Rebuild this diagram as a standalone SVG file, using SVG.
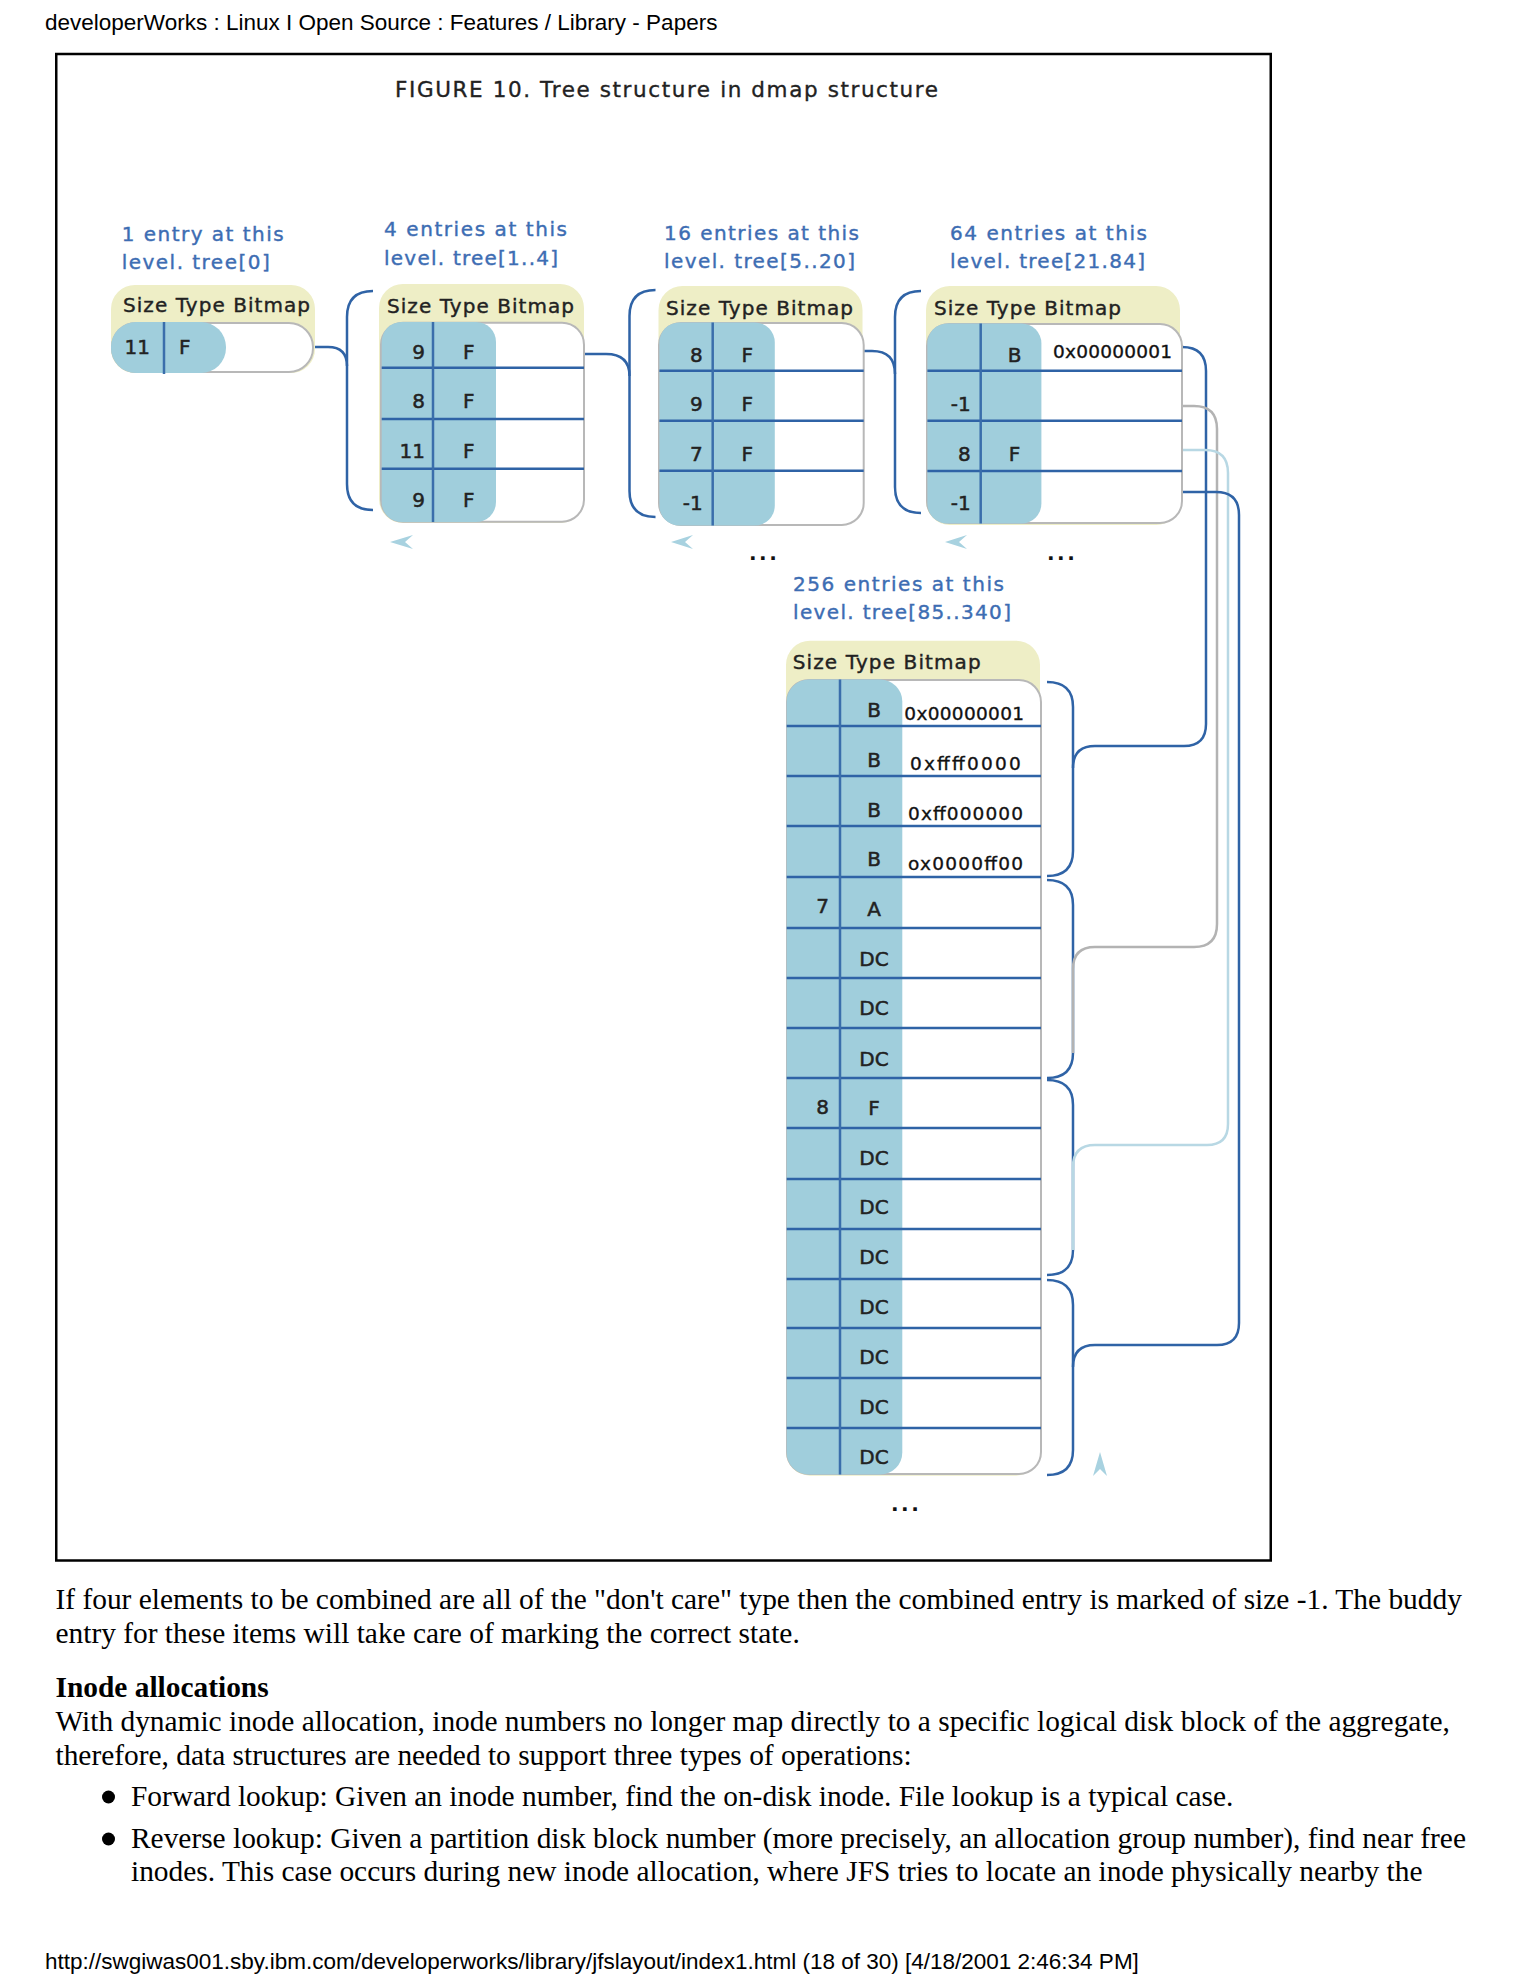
<svg xmlns="http://www.w3.org/2000/svg" width="1530" height="1980" viewBox="0 0 1530 1980">
<style>
.page{font-family:"Liberation Sans",Arial,sans-serif;font-size:22.5px;fill:#000}
.body{font-family:"Liberation Serif","Times New Roman",serif;font-size:29.4px;fill:#000}
.bold{font-weight:bold}
.title{font-family:"DejaVu Sans",sans-serif;font-size:21.5px;fill:#222;stroke:#222;stroke-width:0.35px}
.lbl{font-family:"DejaVu Sans",sans-serif;font-size:20px;fill:#3d6db3;stroke:#3d6db3;stroke-width:0.4px}
.hdr{font-family:"DejaVu Sans",sans-serif;font-size:20px;fill:#222;stroke:#222;stroke-width:0.4px}
.cell{font-family:"DejaVu Sans",sans-serif;font-size:20px;fill:#222;stroke:#222;stroke-width:0.5px}
.hex{font-family:"DejaVu Sans",sans-serif;font-size:18.5px;fill:#111;stroke:#111;stroke-width:0.35px}
.mid{text-anchor:middle}
.end{text-anchor:end}
.dots{font-family:"DejaVu Sans",sans-serif;font-size:20px;font-weight:bold;fill:#111;letter-spacing:2.5px}
.yel{fill:#eeeec6}
.wb{fill:#fff;stroke:#b8b8b8;stroke-width:2}
.bl{fill:#a0cedc}
.rl{stroke:#2f63a6;stroke-width:2.5}
.dv{stroke:#3a6eab;stroke-width:2.5}
.cb{fill:none;stroke:#2f63a6;stroke-width:2.5}
.cg{fill:none;stroke:#b3b3b3;stroke-width:2.5}
.cl{fill:none;stroke:#b8d8e4;stroke-width:2.5}
.arr{fill:#a8d2e0}
</style>
<rect width="1530" height="1980" fill="#fff"/>
<text class="page" x="45" y="30">developerWorks : Linux I Open Source : Features / Library - Papers</text>
<rect x="56.25" y="54" width="1214.5" height="1506.5" fill="none" stroke="#000" stroke-width="2.5"/>
<text class="title" x="395" y="97" textLength="543" lengthAdjust="spacing">FIGURE 10. Tree structure in dmap structure</text>

<g id="labels">
<text class="lbl" x="121.7" y="240.7" textLength="162" lengthAdjust="spacing">1 entry at this</text>
<text class="lbl" x="121.7" y="269" textLength="148" lengthAdjust="spacing">level. tree[0]</text>
<text class="lbl" x="384" y="236" textLength="183" lengthAdjust="spacing">4 entries at this</text>
<text class="lbl" x="384" y="265" textLength="174" lengthAdjust="spacing">level. tree[1..4]</text>
<text class="lbl" x="664" y="240" textLength="195" lengthAdjust="spacing">16 entries at this</text>
<text class="lbl" x="664" y="268" textLength="191" lengthAdjust="spacing">level. tree[5..20]</text>
<text class="lbl" x="950" y="240" textLength="197" lengthAdjust="spacing">64 entries at this</text>
<text class="lbl" x="950" y="268" textLength="195" lengthAdjust="spacing">level. tree[21.84]</text>
<text class="lbl" x="793" y="591" textLength="211" lengthAdjust="spacing">256 entries at this</text>
<text class="lbl" x="793" y="619" textLength="218" lengthAdjust="spacing">level. tree[85..340]</text>
</g>

<g id="connectors">
<path class="cb" d="M313,347 L328,347 Q347,347 347,366"/>
<path class="cb" d="M373,291 Q347,291 347,317 L347,484 Q347,510 373,510"/>
<path class="cb" d="M584,354 L606,354 Q629.5,354 629.5,376"/>
<path class="cb" d="M655.5,290 Q629.5,290 629.5,316 L629.5,491 Q629.5,517 655.5,517"/>
<path class="cb" d="M863.7,351 L872,351 Q895,351 895,374"/>
<path class="cb" d="M921,291 Q895,291 895,317 L895,487 Q895,513 921,513"/>
<path class="cb" d="M1047,682 Q1073,682 1073,707 L1073,851 Q1073,876 1047,876"/>
<path class="cb" d="M1047,880 Q1073,880 1073,905 L1073,1053 Q1073,1078 1047,1078"/>
<path class="cb" d="M1047,1080 Q1073,1080 1073,1105 L1073,1250 Q1073,1275 1047,1275"/>
<path class="cb" d="M1047,1280 Q1073,1280 1073,1305 L1073,1450 Q1073,1475 1047,1475"/>
<path class="cb" d="M1182,347 Q1206,347 1206,371 L1206,724 Q1206,746 1184,746 L1095,746 Q1073,746 1073,768"/>
<path class="cg" d="M1182,406 L1194,406 Q1217,406 1217,429 L1217,924 Q1217,947 1194,947 L1095,947 Q1073,947 1073,969 L1073,1053"/>
<path class="cl" d="M1182,450 L1205,450 Q1228,450 1228,473 L1228,1124 Q1228,1145 1207,1145 L1095,1145 Q1073,1145 1073,1167 L1073,1250"/>
<path class="cb" d="M1182,492 L1216,492 Q1239,492 1239,515 L1239,1323 Q1239,1345 1217,1345 L1095,1345 Q1073,1345 1073,1367"/>
<polygon class="arr" points="390,542 413,535 405,542 413,549"/>
<polygon class="arr" points="671,542 693,535 685,542 693,549"/>
<polygon class="arr" points="945,542 967,535 959,542 967,549"/>
<polygon class="arr" points="1100,1452 1093,1476 1100,1469 1107,1476"/>
</g>

<g id="node1">
<rect class="yel" x="111" y="285" width="204" height="88" rx="24"/>
<text class="hdr" x="123" y="311.7" textLength="187" lengthAdjust="spacing">Size Type Bitmap</text>
<rect class="wb" x="112" y="323" width="201" height="49" rx="24"/>
<rect class="bl" x="111" y="322" width="115" height="51" rx="25"/>
<line class="dv" x1="164" y1="322" x2="164" y2="374"/>
<text class="cell end" x="150" y="354">11</text>
<text class="cell" x="179" y="354">F</text>
</g>

<g id="node2">
<rect class="yel" x="379" y="284" width="205" height="239" rx="24"/>
<text class="hdr" x="387" y="312.7" textLength="187" lengthAdjust="spacing">Size Type Bitmap</text>
<rect class="wb" x="381" y="322.7" width="203" height="199" rx="22"/>
<rect class="bl" x="381.7" y="322" width="114.3" height="200" rx="20"/>
<line class="rl" x1="381.7" y1="367.7" x2="584" y2="367.7"/>
<line class="rl" x1="381.7" y1="419" x2="584" y2="419"/>
<line class="rl" x1="381.7" y1="468.7" x2="584" y2="468.7"/>
<line class="dv" x1="433" y1="322" x2="433" y2="522"/>
<text class="cell end" x="425" y="359">9</text><text class="cell mid" x="468.7" y="359">F</text>
<text class="cell end" x="425" y="408">8</text><text class="cell mid" x="468.7" y="408">F</text>
<text class="cell end" x="425" y="458">11</text><text class="cell mid" x="468.7" y="458">F</text>
<text class="cell end" x="425" y="507">9</text><text class="cell mid" x="468.7" y="507">F</text>
</g>

<g id="node3">
<rect class="yel" x="658.5" y="286" width="204" height="240" rx="24"/>
<text class="hdr" x="666" y="315" textLength="187" lengthAdjust="spacing">Size Type Bitmap</text>
<rect class="wb" x="659" y="323" width="204.7" height="202" rx="22"/>
<rect class="bl" x="659.4" y="322.5" width="115.4" height="203" rx="20"/>
<line class="rl" x1="659.4" y1="370.7" x2="863.7" y2="370.7"/>
<line class="rl" x1="659.4" y1="420.7" x2="863.7" y2="420.7"/>
<line class="rl" x1="659.4" y1="470.7" x2="863.7" y2="470.7"/>
<line class="dv" x1="712.7" y1="322.5" x2="712.7" y2="525.5"/>
<text class="cell end" x="702.8" y="361.7">8</text><text class="cell mid" x="747.3" y="361.7">F</text>
<text class="cell end" x="702.8" y="410.7">9</text><text class="cell mid" x="747.3" y="410.7">F</text>
<text class="cell end" x="702.8" y="460.7">7</text><text class="cell mid" x="747.3" y="460.7">F</text>
<text class="cell end" x="702.8" y="510">-1</text>
</g>

<g id="node4">
<rect class="yel" x="926" y="286" width="254" height="239" rx="24"/>
<text class="hdr" x="934" y="315" textLength="187" lengthAdjust="spacing">Size Type Bitmap</text>
<rect class="wb" x="927" y="324" width="255" height="199" rx="22"/>
<rect class="bl" x="927.4" y="323.5" width="114" height="200" rx="20"/>
<line class="rl" x1="927.4" y1="370.7" x2="1182" y2="370.7"/>
<line class="rl" x1="927.4" y1="420.7" x2="1182" y2="420.7"/>
<line class="rl" x1="927.4" y1="471" x2="1182" y2="471"/>
<line class="dv" x1="980.7" y1="323.5" x2="980.7" y2="523.5"/>
<text class="cell mid" x="1014.6" y="361.7">B</text>
<text class="hex" x="1053" y="358" textLength="119" lengthAdjust="spacing">0x00000001</text>
<text class="cell end" x="970.8" y="410.7">-1</text>
<text class="cell end" x="970.8" y="460.7">8</text><text class="cell mid" x="1014.6" y="460.7">F</text>
<text class="cell end" x="970.8" y="510">-1</text>
</g>

<g id="node5">
<rect class="yel" x="786" y="640.7" width="254" height="835" rx="24"/>
<text class="hdr" x="792.7" y="669.3" textLength="188" lengthAdjust="spacing">Size Type Bitmap</text>
<rect class="wb" x="787" y="680" width="254" height="794" rx="22"/>
<rect class="bl" x="786.7" y="679.5" width="115.6" height="795" rx="22"/>
<g class="rl">
<line x1="786.7" y1="726" x2="1041" y2="726"/>
<line x1="786.7" y1="776" x2="1041" y2="776"/>
<line x1="786.7" y1="826" x2="1041" y2="826"/>
<line x1="786.7" y1="877" x2="1041" y2="877"/>
<line x1="786.7" y1="928" x2="1041" y2="928"/>
<line x1="786.7" y1="978" x2="1041" y2="978"/>
<line x1="786.7" y1="1028" x2="1041" y2="1028"/>
<line x1="786.7" y1="1078" x2="1041" y2="1078"/>
<line x1="786.7" y1="1128" x2="1041" y2="1128"/>
<line x1="786.7" y1="1179" x2="1041" y2="1179"/>
<line x1="786.7" y1="1229" x2="1041" y2="1229"/>
<line x1="786.7" y1="1279" x2="1041" y2="1279"/>
<line x1="786.7" y1="1328" x2="1041" y2="1328"/>
<line x1="786.7" y1="1378" x2="1041" y2="1378"/>
<line x1="786.7" y1="1428" x2="1041" y2="1428"/>
</g>
<line class="dv" x1="840" y1="679.5" x2="840" y2="1474.5"/>
<text class="cell mid" x="874" y="716.7">B</text>
<text class="hex" x="904.3" y="720" textLength="119.7" lengthAdjust="spacing">0x00000001</text>
<text class="cell mid" x="874" y="766.7">B</text>
<text class="hex" x="910" y="770" textLength="110.7" lengthAdjust="spacing">0xffff0000</text>
<text class="cell mid" x="874" y="816.7">B</text>
<text class="hex" x="908" y="820" textLength="115" lengthAdjust="spacing">0xff000000</text>
<text class="cell mid" x="874" y="866">B</text>
<text class="hex" x="908" y="870" textLength="115" lengthAdjust="spacing">ox0000ff00</text>
<text class="cell end" x="829" y="913">7</text><text class="cell mid" x="874" y="916">A</text>
<text class="cell mid" x="874" y="966">DC</text>
<text class="cell mid" x="874" y="1015">DC</text>
<text class="cell mid" x="874" y="1066">DC</text>
<text class="cell end" x="829" y="1114">8</text><text class="cell mid" x="874" y="1115">F</text>
<text class="cell mid" x="874" y="1165">DC</text>
<text class="cell mid" x="874" y="1214">DC</text>
<text class="cell mid" x="874" y="1264">DC</text>
<text class="cell mid" x="874" y="1314">DC</text>
<text class="cell mid" x="874" y="1363.6">DC</text>
<text class="cell mid" x="874" y="1414">DC</text>
<text class="cell mid" x="874" y="1463.6">DC</text>
</g>

<text class="dots" x="749" y="560">...</text>
<text class="dots" x="1047" y="560">...</text>
<text class="dots" x="891" y="1511">...</text>

<text class="body" x="55.5" y="1609">If four elements to be combined are all of the "don't care" type then the combined entry is marked of size -1. The buddy</text>
<text class="body" x="55.5" y="1643">entry for these items will take care of marking the correct state.</text>
<text class="body bold" x="55.5" y="1697">Inode allocations</text>
<text class="body" x="55.5" y="1731">With dynamic inode allocation, inode numbers no longer map directly to a specific logical disk block of the aggregate,</text>
<text class="body" x="55.5" y="1765">therefore, data structures are needed to support three types of operations:</text>
<circle cx="108.5" cy="1797" r="6.5" fill="#000"/>
<text class="body" x="131" y="1806">Forward lookup: Given an inode number, find the on-disk inode. File lookup is a typical case.</text>
<circle cx="108.5" cy="1839" r="6.5" fill="#000"/>
<text class="body" x="131" y="1848">Reverse lookup: Given a partition disk block number (more precisely, an allocation group number), find near free</text>
<text class="body" x="131" y="1881">inodes. This case occurs during new inode allocation, where JFS tries to locate an inode physically nearby the</text>
<text class="page" x="45" y="1969">http://swgiwas001.sby.ibm.com/developerworks/library/jfslayout/index1.html (18 of 30) [4/18/2001 2:46:34 PM]</text>
</svg>
